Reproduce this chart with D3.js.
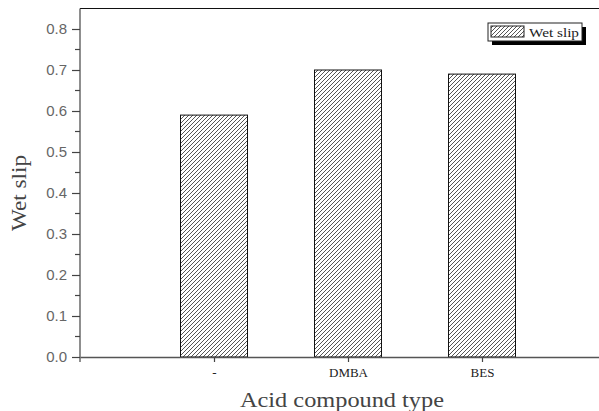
<!DOCTYPE html>
<html>
<head>
<meta charset="utf-8">
<script src="https://cdn.jsdelivr.net/npm/d3@7"></script>
<style>
  body { margin: 0; background: #fff; }
  svg { display: block; }
</style>
</head>
<body>
<div id="chart"></div>
<script>
var categories = ["-", "DMBA", "BES"];
var wetSlip = [0.59, 0.70, 0.69];
var yTicks = [0.0, 0.1, 0.2, 0.3, 0.4, 0.5, 0.6, 0.7, 0.8];
var seriesName = "Wet slip";

var width = 599, height = 411;
var left = 80, bottom = 357;

var svg = d3.select("#chart").append("svg")
    .attr("width", width)
    .attr("height", height);

var defs = svg.append("defs");
var pat = defs.append("pattern")
    .attr("id", "hatch")
    .attr("patternUnits", "userSpaceOnUse")
    .attr("width", 4)
    .attr("height", 4);
pat.append("rect").attr("width", 4).attr("height", 4).attr("fill", "#fff");
pat.append("path")
    .attr("d", "M-1,1 l2,-2 M0,4 l4,-4 M3,5 l2,-2")
    .attr("stroke", "#555")
    .attr("stroke-width", 1);

// x is a plain linear scale, the original plot extends past the crop on the right
var x = d3.scaleLinear().domain([0, 4]).range([left, 616]);
var y = d3.scaleLinear().domain([0, 0.85]).range([bottom, bottom - 0.85 * 410]);

var barW = 67;

// top frame line
svg.append("line")
    .attr("x1", left).attr("x2", width)
    .attr("y1", y(0.85)).attr("y2", y(0.85))
    .attr("stroke", "#111").attr("stroke-width", 1.2);

// bars
svg.selectAll("rect.bar")
    .data(wetSlip)
    .enter().append("rect")
    .attr("class", "bar")
    .attr("x", function (d, i) { return x(i + 1) - barW / 2; })
    .attr("y", function (d) { return y(d); })
    .attr("width", barW)
    .attr("height", function (d) { return y(0) - y(d); })
    .attr("fill", "url(#hatch)")
    .attr("stroke", "#111")
    .attr("stroke-width", 1);

// y axis
var yAxis = d3.axisLeft(y)
    .tickValues(yTicks)
    .tickFormat(d3.format(".1f"))
    .tickSize(8)
    .tickSizeOuter(0)
    .tickPadding(5);
var gy = svg.append("g")
    .attr("transform", "translate(" + left + ",0)")
    .call(yAxis);
gy.select(".domain").attr("stroke", "#444").attr("stroke-width", 1.2)
    .attr("d", "M0," + (bottom + 5) + "V" + y(0.85));
gy.selectAll(".tick line").attr("stroke", "#444").attr("stroke-width", 1.2);
gy.selectAll(".tick text")
    .attr("fill", "#666")
    .style("font-family", "Arial, 'Liberation Sans', sans-serif")
    .style("font-size", "15px");

// minor ticks
var minor = d3.range(0.05, 0.85, 0.1);
svg.selectAll("line.minor")
    .data(minor)
    .enter().append("line")
    .attr("class", "minor")
    .attr("x1", left - 5).attr("x2", left)
    .attr("y1", function (d) { return y(d); })
    .attr("y2", function (d) { return y(d); })
    .attr("stroke", "#444").attr("stroke-width", 1.2);

// x axis
var xAxis = d3.axisBottom(x)
    .tickValues([1, 2, 3])
    .tickFormat(function (d) { return categories[d - 1]; })
    .tickSize(5)
    .tickSizeOuter(0)
    .tickPadding(6);
var gx = svg.append("g")
    .attr("transform", "translate(0," + bottom + ")")
    .call(xAxis);
gx.select(".domain").attr("stroke", "#555").attr("stroke-width", 1.4);
gx.selectAll(".tick line").attr("stroke", "#444").attr("stroke-width", 1.2);
gx.selectAll(".tick text")
    .attr("fill", "#222")
    .style("font-family", "'Liberation Serif', 'DejaVu Serif', serif")
    .style("font-size", "13px");

// axis titles
svg.append("text")
    .attr("x", x(2) - 6)
    .attr("y", 407)
    .attr("text-anchor", "middle")
    .attr("fill", "#444")
    .attr("textLength", 204)
    .attr("lengthAdjust", "spacingAndGlyphs")
    .style("font-family", "'Liberation Serif', serif")
    .style("font-size", "21px")
    .text("Acid compound type");

svg.append("text")
    .attr("transform", "translate(26,193) rotate(-90)")
    .attr("text-anchor", "middle")
    .attr("fill", "#444")
    .attr("textLength", 76)
    .attr("lengthAdjust", "spacingAndGlyphs")
    .style("font-family", "'Liberation Serif', serif")
    .style("font-size", "20px")
    .text("Wet slip");

// legend
var lg = svg.append("g").attr("transform", "translate(488,23)");
lg.append("rect")
    .attr("x", 4).attr("y", 4)
    .attr("width", 94).attr("height", 18)
    .attr("fill", "#000");
lg.append("rect")
    .attr("width", 94).attr("height", 18)
    .attr("fill", "#fff")
    .attr("stroke", "#222").attr("stroke-width", 1);
lg.append("rect")
    .attr("x", 3).attr("y", 3)
    .attr("width", 33).attr("height", 11)
    .attr("fill", "url(#hatch)")
    .attr("stroke", "#222").attr("stroke-width", 1);
lg.append("text")
    .attr("x", 41).attr("y", 13.5)
    .attr("fill", "#222")
    .attr("textLength", 50)
    .attr("lengthAdjust", "spacingAndGlyphs")
    .style("font-family", "'Liberation Serif', serif")
    .style("font-size", "13px")
    .text(seriesName);
</script>
</body>
</html>
